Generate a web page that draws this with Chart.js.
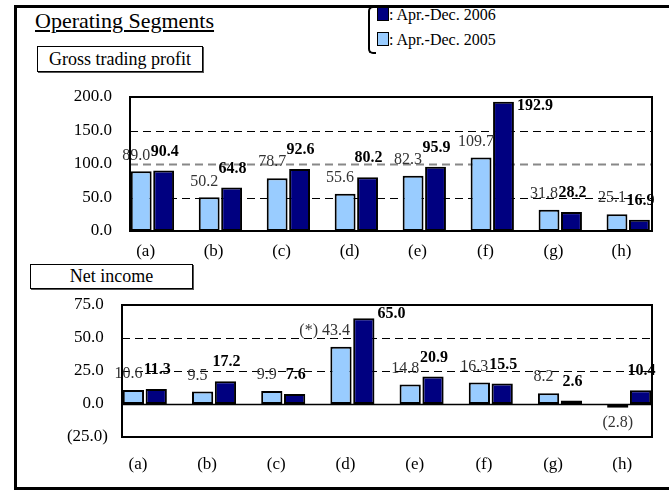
<!DOCTYPE html>
<html>
<head>
<meta charset="utf-8">
<script src="https://cdn.jsdelivr.net/npm/chart.js@4.4.1/dist/chart.umd.min.js"></script>
<style>
  body { margin: 0; background: #fff; font-family: "Liberation Serif", "Times New Roman", serif; color: #000; }
  #page { position: relative; width: 669px; height: 495px; overflow: hidden; }
  #frame { position: absolute; left: 14px; top: 5px; width: 720px; height: 479px; border: 3px solid #000; }
  #title { position: absolute; left: 35px; top: 8px; font-size: 22px; text-decoration: underline; white-space: nowrap; }
  .box { position: absolute; border: 1px solid #000; box-shadow: 1px 1px 0 #555; font-size: 18px; text-align: center; white-space: nowrap; background: #fff; }
  #gtpBox { left: 37px; top: 46px; width: 164px; height: 24px; line-height: 24px; }
  #niBox { left: 30px; top: 264px; width: 161px; height: 23px; line-height: 23px; }
  #legend { position: absolute; left: 368px; top: 6px; font-size: 16px; white-space: nowrap; }
  #bracket { position: absolute; left: 0; top: 0; width: 6px; height: 44px; border: 2px solid #000; border-right: none; border-radius: 5px 0 0 5px; }
  .row { position: absolute; left: 9px; height: 16px; line-height: 16px; }
  .sw { display: inline-block; width: 10px; height: 12px; border: 1px solid #000; vertical-align: -1px; }
  canvas { position: absolute; left: 0; }
  #top { top: 67px; }
  #bottom { top: 275px; }
</style>
</head>
<body>
<div id="page">
  <div id="frame"></div>
  <div id="title">Operating Segments</div>
  <div class="box" id="gtpBox">Gross trading profit</div>
  <div class="box" id="niBox">Net income</div>
  <div id="legend">
    <div id="bracket"></div>
    <div class="row" style="top:1px"><span class="sw" style="background:#000080"></span>: Apr.-Dec. 2006</div>
    <div class="row" style="top:26px"><span class="sw" style="background:#99ccff"></span>: Apr.-Dec. 2005</div>
  </div>
  <canvas id="top" width="669" height="208"></canvas>
  <canvas id="bottom" width="669" height="213"></canvas>
</div>
<script>
const segments = ['(a)', '(b)', '(c)', '(d)', '(e)', '(f)', '(g)', '(h)'];
const gross2005 = [89.0, 50.2, 78.7, 55.6, 82.3, 109.7, 31.8, 25.1];
const gross2006 = [90.4, 64.8, 92.6, 80.2, 95.9, 192.9, 28.2, 16.9];
const net2005 = [10.6, 9.5, 9.9, 43.4, 14.8, 16.3, 8.2, -2.8];
const net2006 = [11.3, 17.2, 7.6, 65.0, 20.9, 15.5, 2.6, 10.4];
const netNotes = ['', '', '', '(*) ', '', '', '', ''];
const grossTicks = [0, 50, 100, 150, 200];
const netTicks = [-25, 0, 25, 50, 75];

const LIGHT = '#99ccff';
const DARK = '#000080';
const FONT = '"Liberation Serif", "Times New Roman", serif';

function fmt(v) {
  return v < 0 ? '(' + Math.abs(v).toFixed(1) + ')' : v.toFixed(1);
}

function points(arr) {
  return arr.map((v, i) => ({ x: i, y: v }));
}

// dashed reference lines under the bars
const gridLines = {
  id: 'gridLines',
  beforeDatasetsDraw(chart, args, opts) {
    const { ctx } = chart;
    const { x, y } = chart.scales;
    ctx.save();
    opts.lines.forEach(l => {
      const py = Math.round(y.getPixelForValue(l.value)) + 0.5;
      ctx.strokeStyle = l.color;
      ctx.lineWidth = l.width;
      ctx.setLineDash(l.dash || []);
      ctx.beginPath();
      ctx.moveTo(x.left, py);
      ctx.lineTo(x.right, py);
      ctx.stroke();
    });
    ctx.restore();
  }
};

// box round the plot area, drawn last
const plotBox = {
  id: 'plotBox',
  afterDraw(chart) {
    const { ctx, chartArea: a } = chart;
    ctx.save();
    ctx.strokeStyle = '#000';
    ctx.lineWidth = 2;
    ctx.setLineDash([]);
    ctx.beginPath();
    ctx.moveTo(a.left, a.top);
    ctx.lineTo(a.right, a.top);
    ctx.lineTo(a.right, a.bottom);
    ctx.lineTo(a.left, a.bottom);
    ctx.closePath();
    ctx.stroke();
    ctx.restore();
  }
};

const valueLabels = {
  id: 'valueLabels',
  afterDatasetsDraw(chart, args, opts) {
    const ctx = chart.ctx;
    const top = chart.chartArea.top;
    ctx.save();
    ctx.textBaseline = 'middle';
    chart.data.datasets.forEach((ds, di) => {
      const meta = chart.getDatasetMeta(di);
      meta.data.forEach((bar, i) => {
        const v = ds.data[i].y;
        const txt = fmt(v);
        const bold = di === 1;
        ctx.font = (bold ? 'bold ' : '') + '16px ' + FONT;
        ctx.fillStyle = bold ? '#000' : '#333';
        ctx.textAlign = 'center';
        let x = bar.x + (bold ? 1 : -5);
        let y = bar.y - (bold ? 19 : 16);
        if (v < 0) { x = bar.x; y = bar.y + 15; }
        if (y < top + 8) {
          // no room above: put it beside the bar
          ctx.textAlign = 'left';
          x = bar.x + bar.width / 2 + 3;
          y = top + 9;
        }
        ctx.fillText(txt, x, y);
        const note = di === 0 && opts.notes ? opts.notes[i] : '';
        if (note) {
          ctx.textAlign = 'right';
          ctx.fillText(note, x - ctx.measureText(txt).width / 2, y);
        }
      });
    });
    ctx.restore();
  }
};

function makeChart(id, light, dark, ticks, opts) {
  return new Chart(document.getElementById(id), {
    type: 'bar',
    data: {
      datasets: [
        { label: 'Apr.-Dec. 2005', data: points(light), backgroundColor: LIGHT, borderColor: '#000', borderWidth: 2, borderSkipped: false },
        { label: 'Apr.-Dec. 2006', data: points(dark), backgroundColor: DARK, borderColor: '#000', borderWidth: 2, borderSkipped: false }
      ]
    },
    options: {
      responsive: false,
      animation: false,
      categoryPercentage: 0.66,
      barPercentage: 0.93,
      layout: { padding: { left: 0, right: 17, top: 30, bottom: 0 } },
      plugins: {
        legend: { display: false },
        tooltip: { enabled: false },
        gridLines: { lines: opts.lines },
        valueLabels: { notes: opts.notes }
      },
      scales: {
        x: {
          type: 'linear',
          offset: false,
          bounds: 'data',
          min: -0.33,
          max: opts.xMax,
          grid: { display: false, drawTicks: false, offset: false },
          border: { display: false },
          afterBuildTicks: s => { s.ticks = segments.map((_, i) => ({ value: i - 0.1 })); },
          afterFit: s => { s.height = opts.xHeight; },
          ticks: {
            autoSkip: false,
            maxRotation: 0,
            padding: opts.xPad,
            color: '#000',
            font: { family: FONT, size: 17 },
            callback: (v, i) => segments[i]
          }
        },
        y: {
          min: ticks[0],
          max: ticks[ticks.length - 1],
          grid: { display: false, drawTicks: false },
          border: { display: false },
          afterBuildTicks: s => { s.ticks = ticks.map(v => ({ value: v })); },
          afterFit: s => { s.width = opts.yWidth; },
          ticks: {
            padding: opts.yPad,
            color: '#000',
            font: { family: FONT, size: 17 },
            callback: opts.yFmt
          }
        }
      }
    },
    plugins: [gridLines, valueLabels, plotBox]
  });
}

makeChart('top', gross2005, gross2006, grossTicks, {
  xMax: 7.35, xHeight: 44, xPad: 10, yWidth: 130, yPad: 18,
  yFmt: v => v.toFixed(1),
  lines: [
    { value: 150, color: '#000', width: 1, dash: [8, 5] },
    { value: 100, color: '#888', width: 2, dash: [8, 5] },
    { value: 50, color: '#000', width: 1, dash: [8, 5] }
  ]
});

makeChart('bottom', net2005, net2006, netTicks, {
  xMax: 7.33, xHeight: 51, xPad: 17, yWidth: 122, yPad: 14,
  yFmt: v => v < 0 ? fmt(v) : v.toFixed(1) + ' ',
  notes: netNotes,
  lines: [
    { value: 50, color: '#000', width: 1, dash: [8, 5] },
    { value: 25, color: '#000', width: 1, dash: [8, 5] },
    { value: 0, color: '#000', width: 1.5 }
  ]
});
</script>
</body>
</html>
